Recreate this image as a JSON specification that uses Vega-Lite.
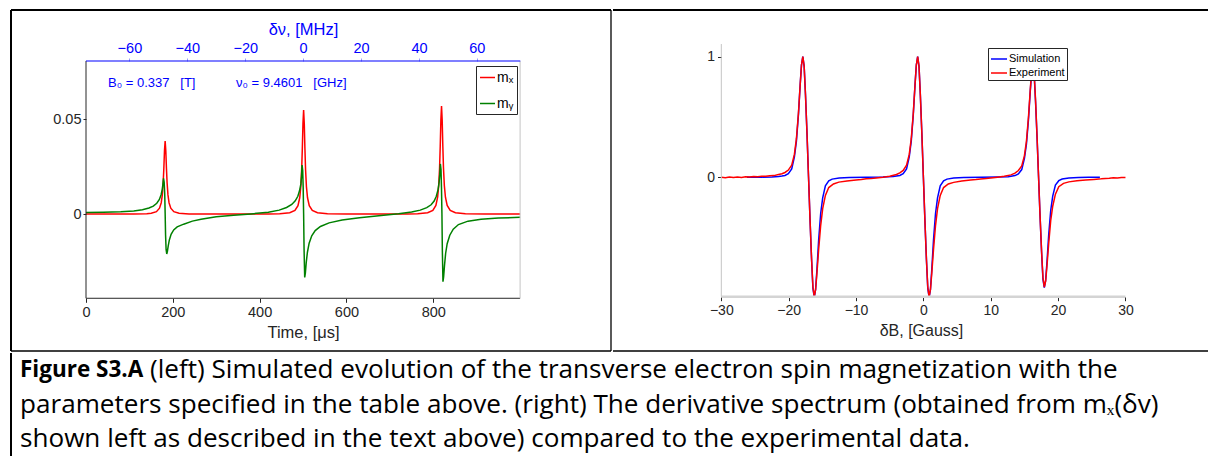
{
"$schema":"https://vega.github.io/schema/vega-lite/v6.json",
"padding":{"left":10,"top":9,"right":0,"bottom":0},
"background":"white",
"spacing":0,
"config":{
 "view":{"stroke":null},
 "font":"Liberation Sans",
 "concat":{"spacing":0},
 "axis":{"grid":false,"labelFont":"Liberation Sans","titleFont":"Liberation Sans","labelColor":"#262626","titleColor":"#262626","tickColor":"#262626","titleFontWeight":"normal","labelFontSize":14,"titleFontSize":16},
 "legend":{"labelFont":"Liberation Sans","labelColor":"#000000","symbolType":"stroke","strokeColor":"#262626","fillColor":"white","cornerRadius":0}
},
"datasets":{
 "one":[{}],
 "left":[
  {"s":"mx","t":0,"v":0.0001},{"s":"mx","t":60,"v":0.0001},{"s":"mx","t":110,"v":0.0002},{"s":"mx","t":140,"v":0.00033},{"s":"mx","t":150.3,"v":0.00056},{"s":"mx","t":162.3,"v":0.0014},{"s":"mx","t":169.3,"v":0.0032},{"s":"mx","t":173.3,"v":0.0061},{"s":"mx","t":175.8,"v":0.0102},{"s":"mx","t":177.8,"v":0.0166},{"s":"mx","t":179.3,"v":0.0242},{"s":"mx","t":180.8,"v":0.0336},{"s":"mx","t":182.3,"v":0.0386},{"s":"mx","t":183.8,"v":0.0336},{"s":"mx","t":185.3,"v":0.0242},{"s":"mx","t":186.8,"v":0.0166},{"s":"mx","t":188.8,"v":0.0102},{"s":"mx","t":191.3,"v":0.0061},{"s":"mx","t":195.3,"v":0.0032},{"s":"mx","t":202.3,"v":0.0014},{"s":"mx","t":214.3,"v":0.00056},{"s":"mx","t":237.3,"v":0.00019},{"s":"mx","t":280,"v":0.0001},{"s":"mx","t":350,"v":0.0001},{"s":"mx","t":420,"v":0.0001},{"s":"mx","t":446.3,"v":0.00027},{"s":"mx","t":469.3,"v":0.0008},{"s":"mx","t":481.3,"v":0.002},{"s":"mx","t":488.3,"v":0.0045},{"s":"mx","t":492.3,"v":0.0087},{"s":"mx","t":494.8,"v":0.0145},{"s":"mx","t":496.8,"v":0.0235},{"s":"mx","t":498.3,"v":0.0345},{"s":"mx","t":499.8,"v":0.0478},{"s":"mx","t":501.3,"v":0.0549},{"s":"mx","t":502.8,"v":0.0478},{"s":"mx","t":504.3,"v":0.0345},{"s":"mx","t":505.8,"v":0.0235},{"s":"mx","t":507.8,"v":0.0145},{"s":"mx","t":510.3,"v":0.0087},{"s":"mx","t":514.3,"v":0.0045},{"s":"mx","t":521.3,"v":0.002},{"s":"mx","t":533.3,"v":0.0008},{"s":"mx","t":556.3,"v":0.00027},{"s":"mx","t":600,"v":0.0001},{"s":"mx","t":680,"v":0.0001},{"s":"mx","t":740,"v":0.0001},{"s":"mx","t":764,"v":0.00029},{"s":"mx","t":787,"v":0.00083},{"s":"mx","t":799,"v":0.0021},{"s":"mx","t":806,"v":0.0047},{"s":"mx","t":810,"v":0.009},{"s":"mx","t":812.5,"v":0.0151},{"s":"mx","t":814.5,"v":0.0244},{"s":"mx","t":816,"v":0.0358},{"s":"mx","t":817.5,"v":0.0496},{"s":"mx","t":819,"v":0.057},{"s":"mx","t":820.5,"v":0.0496},{"s":"mx","t":822,"v":0.0358},{"s":"mx","t":823.5,"v":0.0244},{"s":"mx","t":825.5,"v":0.0151},{"s":"mx","t":828,"v":0.009},{"s":"mx","t":832,"v":0.0047},{"s":"mx","t":839,"v":0.0021},{"s":"mx","t":851,"v":0.00083},{"s":"mx","t":874,"v":0.00029},{"s":"mx","t":920,"v":0.0001},{"s":"mx","t":1000,"v":0.0001},
  {"s":"my","t":0,"v":0.0009},{"s":"my","t":40,"v":0.0011},{"s":"my","t":80,"v":0.0014},{"s":"my","t":110,"v":0.0018},{"s":"my","t":130,"v":0.0024},{"s":"my","t":145,"v":0.0033},{"s":"my","t":155,"v":0.0043},{"s":"my","t":163,"v":0.0058},{"s":"my","t":169,"v":0.0078},{"s":"my","t":173,"v":0.0103},{"s":"my","t":175.5,"v":0.013},{"s":"my","t":177,"v":0.0155},{"s":"my","t":178.5,"v":0.0189},{"s":"my","t":180,"v":0.017},{"s":"my","t":181.3,"v":0.011},{"s":"my","t":182.3,"v":0.0005},{"s":"my","t":183.3,"v":-0.011},{"s":"my","t":184.5,"v":-0.0185},{"s":"my","t":186,"v":-0.0209},{"s":"my","t":187.5,"v":-0.0195},{"s":"my","t":189.5,"v":-0.0165},{"s":"my","t":192,"v":-0.0135},{"s":"my","t":196,"v":-0.0105},{"s":"my","t":202,"v":-0.0082},{"s":"my","t":210,"v":-0.0066},{"s":"my","t":225,"v":-0.0052},{"s":"my","t":245,"v":-0.0036},{"s":"my","t":265,"v":-0.0026},{"s":"my","t":300,"v":-0.0013},{"s":"my","t":340,"v":-0.0005},{"s":"my","t":380,"v":0.0002},{"s":"my","t":420,"v":0.0011},{"s":"my","t":445,"v":0.0022},{"s":"my","t":462,"v":0.0036},{"s":"my","t":474,"v":0.0052},{"s":"my","t":482,"v":0.0071},{"s":"my","t":488,"v":0.0095},{"s":"my","t":492,"v":0.0125},{"s":"my","t":495,"v":0.016},{"s":"my","t":496.5,"v":0.02},{"s":"my","t":497.7,"v":0.0259},{"s":"my","t":499.2,"v":0.023},{"s":"my","t":500.3,"v":0.014},{"s":"my","t":501.3,"v":0.0005},{"s":"my","t":502.3,"v":-0.018},{"s":"my","t":503.8,"v":-0.0332},{"s":"my","t":505.3,"v":-0.031},{"s":"my","t":507.3,"v":-0.0255},{"s":"my","t":510,"v":-0.02},{"s":"my","t":514,"v":-0.0152},{"s":"my","t":520,"v":-0.0113},{"s":"my","t":528,"v":-0.0086},{"s":"my","t":540,"v":-0.0064},{"s":"my","t":560,"v":-0.0045},{"s":"my","t":590,"v":-0.003},{"s":"my","t":630,"v":-0.0018},{"s":"my","t":680,"v":-0.0006},{"s":"my","t":720,"v":0.0003},{"s":"my","t":750,"v":0.0012},{"s":"my","t":770,"v":0.0022},{"s":"my","t":785,"v":0.0035},{"s":"my","t":795,"v":0.005},{"s":"my","t":802,"v":0.007},{"s":"my","t":807,"v":0.0095},{"s":"my","t":811,"v":0.013},{"s":"my","t":813.5,"v":0.017},{"s":"my","t":815,"v":0.021},{"s":"my","t":816.3,"v":0.0265},{"s":"my","t":817.8,"v":0.0235},{"s":"my","t":818.9,"v":0.014},{"s":"my","t":819.9,"v":0.0005},{"s":"my","t":820.9,"v":-0.019},{"s":"my","t":822.3,"v":-0.0355},{"s":"my","t":823.8,"v":-0.033},{"s":"my","t":825.8,"v":-0.027},{"s":"my","t":828.5,"v":-0.0205},{"s":"my","t":832,"v":-0.0155},{"s":"my","t":838,"v":-0.011},{"s":"my","t":846,"v":-0.0078},{"s":"my","t":858,"v":-0.0054},{"s":"my","t":880,"v":-0.0036},{"s":"my","t":910,"v":-0.0026},{"s":"my","t":950,"v":-0.002},{"s":"my","t":1000,"v":-0.0016}
 ],
 "right":[
  {"s":"Simulation","b":-26.2,"v":0},{"s":"Simulation","b":-24,"v":0.001},{"s":"Simulation","b":-22.5,"v":0.003},{"s":"Simulation","b":-21.5,"v":0.006},{"s":"Simulation","b":-21,"v":0.01},{"s":"Simulation","b":-20.55,"v":0.015},{"s":"Simulation","b":-20.05,"v":0.03},{"s":"Simulation","b":-19.55,"v":0.07},{"s":"Simulation","b":-19.15,"v":0.17},{"s":"Simulation","b":-18.85,"v":0.3},{"s":"Simulation","b":-18.55,"v":0.52},{"s":"Simulation","b":-18.3,"v":0.76},{"s":"Simulation","b":-18.1,"v":0.93},{"s":"Simulation","b":-17.9,"v":1.0},{"s":"Simulation","b":-17.7,"v":0.92},{"s":"Simulation","b":-17.5,"v":0.68},{"s":"Simulation","b":-17.27,"v":0.35},{"s":"Simulation","b":-17.05,"v":0},{"s":"Simulation","b":-16.83,"v":-0.35},{"s":"Simulation","b":-16.6,"v":-0.68},{"s":"Simulation","b":-16.4,"v":-0.92},{"s":"Simulation","b":-16.2,"v":-0.995},{"s":"Simulation","b":-16,"v":-0.93},{"s":"Simulation","b":-15.8,"v":-0.76},{"s":"Simulation","b":-15.55,"v":-0.52},{"s":"Simulation","b":-15.25,"v":-0.3},{"s":"Simulation","b":-14.95,"v":-0.17},{"s":"Simulation","b":-14.55,"v":-0.07},{"s":"Simulation","b":-14.05,"v":-0.03},{"s":"Simulation","b":-13.55,"v":-0.015},{"s":"Simulation","b":-12.5,"v":-0.006},{"s":"Simulation","b":-11,"v":-0.002},{"s":"Simulation","b":-8.5,"v":0},{"s":"Simulation","b":-6,"v":0.002},{"s":"Simulation","b":-4.5,"v":0.006},{"s":"Simulation","b":-3.5,"v":0.015},{"s":"Simulation","b":-3,"v":0.03},{"s":"Simulation","b":-2.5,"v":0.07},{"s":"Simulation","b":-2.1,"v":0.17},{"s":"Simulation","b":-1.8,"v":0.3},{"s":"Simulation","b":-1.5,"v":0.52},{"s":"Simulation","b":-1.25,"v":0.76},{"s":"Simulation","b":-1.05,"v":0.93},{"s":"Simulation","b":-0.85,"v":1.0},{"s":"Simulation","b":-0.65,"v":0.92},{"s":"Simulation","b":-0.45,"v":0.68},{"s":"Simulation","b":-0.22,"v":0.35},{"s":"Simulation","b":0,"v":0},{"s":"Simulation","b":0.22,"v":-0.35},{"s":"Simulation","b":0.45,"v":-0.68},{"s":"Simulation","b":0.65,"v":-0.92},{"s":"Simulation","b":0.85,"v":-0.995},{"s":"Simulation","b":1.05,"v":-0.93},{"s":"Simulation","b":1.25,"v":-0.76},{"s":"Simulation","b":1.5,"v":-0.52},{"s":"Simulation","b":1.8,"v":-0.3},{"s":"Simulation","b":2.1,"v":-0.17},{"s":"Simulation","b":2.5,"v":-0.07},{"s":"Simulation","b":3,"v":-0.03},{"s":"Simulation","b":3.5,"v":-0.015},{"s":"Simulation","b":4.5,"v":-0.006},{"s":"Simulation","b":6,"v":-0.002},{"s":"Simulation","b":8.5,"v":0},{"s":"Simulation","b":11,"v":0.002},{"s":"Simulation","b":12.6,"v":0.005},{"s":"Simulation","b":13.6,"v":0.014},{"s":"Simulation","b":14.1,"v":0.028},{"s":"Simulation","b":14.6,"v":0.064},{"s":"Simulation","b":15.0,"v":0.156},{"s":"Simulation","b":15.3,"v":0.276},{"s":"Simulation","b":15.6,"v":0.478},{"s":"Simulation","b":15.85,"v":0.7},{"s":"Simulation","b":16.05,"v":0.855},{"s":"Simulation","b":16.25,"v":0.92},{"s":"Simulation","b":16.45,"v":0.846},{"s":"Simulation","b":16.65,"v":0.626},{"s":"Simulation","b":16.88,"v":0.322},{"s":"Simulation","b":17.1,"v":0},{"s":"Simulation","b":17.32,"v":-0.322},{"s":"Simulation","b":17.55,"v":-0.626},{"s":"Simulation","b":17.75,"v":-0.846},{"s":"Simulation","b":17.95,"v":-0.915},{"s":"Simulation","b":18.15,"v":-0.855},{"s":"Simulation","b":18.35,"v":-0.7},{"s":"Simulation","b":18.6,"v":-0.478},{"s":"Simulation","b":18.9,"v":-0.276},{"s":"Simulation","b":19.2,"v":-0.156},{"s":"Simulation","b":19.6,"v":-0.064},{"s":"Simulation","b":20.1,"v":-0.028},{"s":"Simulation","b":20.6,"v":-0.014},{"s":"Simulation","b":21.6,"v":-0.006},{"s":"Simulation","b":23,"v":-0.002},{"s":"Simulation","b":24.5,"v":0},{"s":"Simulation","b":26.2,"v":0},
  {"s":"Experiment","b":-30,"v":0.001},{"s":"Experiment","b":-29.4,"v":-0.003},{"s":"Experiment","b":-28.8,"v":0.003},{"s":"Experiment","b":-28.2,"v":-0.002},{"s":"Experiment","b":-27.6,"v":0.002},{"s":"Experiment","b":-27,"v":-0.002},{"s":"Experiment","b":-26.4,"v":0.005},{"s":"Experiment","b":-25.8,"v":0.002},{"s":"Experiment","b":-25.2,"v":0.007},{"s":"Experiment","b":-24.6,"v":0.004},{"s":"Experiment","b":-24,"v":0.009},{"s":"Experiment","b":-23.4,"v":0.008},{"s":"Experiment","b":-22.8,"v":0.013},{"s":"Experiment","b":-22.2,"v":0.014},{"s":"Experiment","b":-21.5,"v":0.023},{"s":"Experiment","b":-21,"v":0.029},{"s":"Experiment","b":-20.55,"v":0.04},{"s":"Experiment","b":-20.05,"v":0.06},{"s":"Experiment","b":-19.55,"v":0.1},{"s":"Experiment","b":-19.15,"v":0.19},{"s":"Experiment","b":-18.85,"v":0.32},{"s":"Experiment","b":-18.55,"v":0.53},{"s":"Experiment","b":-18.3,"v":0.76},{"s":"Experiment","b":-18.1,"v":0.93},{"s":"Experiment","b":-17.9,"v":1.0},{"s":"Experiment","b":-17.7,"v":0.92},{"s":"Experiment","b":-17.5,"v":0.68},{"s":"Experiment","b":-17.27,"v":0.35},{"s":"Experiment","b":-17.05,"v":0},{"s":"Experiment","b":-16.83,"v":-0.35},{"s":"Experiment","b":-16.6,"v":-0.68},{"s":"Experiment","b":-16.4,"v":-0.91},{"s":"Experiment","b":-16.2,"v":-0.99},{"s":"Experiment","b":-16,"v":-0.93},{"s":"Experiment","b":-15.8,"v":-0.79},{"s":"Experiment","b":-15.55,"v":-0.6},{"s":"Experiment","b":-15.25,"v":-0.4},{"s":"Experiment","b":-14.95,"v":-0.26},{"s":"Experiment","b":-14.55,"v":-0.15},{"s":"Experiment","b":-14.05,"v":-0.085},{"s":"Experiment","b":-13.35,"v":-0.055},{"s":"Experiment","b":-12.55,"v":-0.04},{"s":"Experiment","b":-11.35,"v":-0.03},{"s":"Experiment","b":-10,"v":-0.022},{"s":"Experiment","b":-9.2,"v":-0.019},{"s":"Experiment","b":-8.5,"v":-0.013},{"s":"Experiment","b":-7.8,"v":-0.011},{"s":"Experiment","b":-7,"v":-0.005},{"s":"Experiment","b":-6,"v":0.001},{"s":"Experiment","b":-5,"v":0.009},{"s":"Experiment","b":-4,"v":0.023},{"s":"Experiment","b":-3.5,"v":0.036},{"s":"Experiment","b":-3,"v":0.057},{"s":"Experiment","b":-2.5,"v":0.1},{"s":"Experiment","b":-2.1,"v":0.19},{"s":"Experiment","b":-1.8,"v":0.32},{"s":"Experiment","b":-1.5,"v":0.53},{"s":"Experiment","b":-1.25,"v":0.76},{"s":"Experiment","b":-1.05,"v":0.93},{"s":"Experiment","b":-0.85,"v":1.0},{"s":"Experiment","b":-0.65,"v":0.92},{"s":"Experiment","b":-0.45,"v":0.68},{"s":"Experiment","b":-0.22,"v":0.35},{"s":"Experiment","b":0,"v":0},{"s":"Experiment","b":0.22,"v":-0.35},{"s":"Experiment","b":0.45,"v":-0.68},{"s":"Experiment","b":0.65,"v":-0.91},{"s":"Experiment","b":0.85,"v":-0.99},{"s":"Experiment","b":1.05,"v":-0.93},{"s":"Experiment","b":1.25,"v":-0.79},{"s":"Experiment","b":1.5,"v":-0.6},{"s":"Experiment","b":1.8,"v":-0.4},{"s":"Experiment","b":2.1,"v":-0.26},{"s":"Experiment","b":2.5,"v":-0.15},{"s":"Experiment","b":3,"v":-0.085},{"s":"Experiment","b":3.7,"v":-0.055},{"s":"Experiment","b":4.5,"v":-0.042},{"s":"Experiment","b":5.7,"v":-0.03},{"s":"Experiment","b":7,"v":-0.022},{"s":"Experiment","b":7.8,"v":-0.019},{"s":"Experiment","b":8.5,"v":-0.014},{"s":"Experiment","b":9.3,"v":-0.01},{"s":"Experiment","b":10,"v":-0.005},{"s":"Experiment","b":11,"v":0.001},{"s":"Experiment","b":12,"v":0.008},{"s":"Experiment","b":13,"v":0.02},{"s":"Experiment","b":13.6,"v":0.034},{"s":"Experiment","b":14.1,"v":0.056},{"s":"Experiment","b":14.6,"v":0.094},{"s":"Experiment","b":15.0,"v":0.18},{"s":"Experiment","b":15.3,"v":0.3},{"s":"Experiment","b":15.6,"v":0.5},{"s":"Experiment","b":15.85,"v":0.71},{"s":"Experiment","b":16.05,"v":0.87},{"s":"Experiment","b":16.25,"v":0.94},{"s":"Experiment","b":16.45,"v":0.86},{"s":"Experiment","b":16.65,"v":0.64},{"s":"Experiment","b":16.88,"v":0.33},{"s":"Experiment","b":17.1,"v":0},{"s":"Experiment","b":17.32,"v":-0.32},{"s":"Experiment","b":17.55,"v":-0.62},{"s":"Experiment","b":17.75,"v":-0.83},{"s":"Experiment","b":17.95,"v":-0.91},{"s":"Experiment","b":18.15,"v":-0.86},{"s":"Experiment","b":18.35,"v":-0.73},{"s":"Experiment","b":18.6,"v":-0.55},{"s":"Experiment","b":18.9,"v":-0.36},{"s":"Experiment","b":19.2,"v":-0.24},{"s":"Experiment","b":19.6,"v":-0.14},{"s":"Experiment","b":20.1,"v":-0.078},{"s":"Experiment","b":20.8,"v":-0.05},{"s":"Experiment","b":21.6,"v":-0.038},{"s":"Experiment","b":22.8,"v":-0.029},{"s":"Experiment","b":24.1,"v":-0.022},{"s":"Experiment","b":25.3,"v":-0.018},{"s":"Experiment","b":26.4,"v":-0.013},{"s":"Experiment","b":27,"v":-0.009},{"s":"Experiment","b":27.6,"v":-0.008},{"s":"Experiment","b":28.2,"v":-0.004},{"s":"Experiment","b":28.8,"v":-0.005},{"s":"Experiment","b":29.4,"v":-0.001},{"s":"Experiment","b":30,"v":-0.002}
 ],
 "caption":[
  {"line":1,"part":"bold","text":"Figure S3.A"},
  {"line":1,"part":"rest1","text":"(left) Simulated evolution of the transverse electron spin magnetization with the"},
  {"line":2,"part":"rest","text":"parameters specified in the table above. (right) The derivative spectrum (obtained from mₓ(δv)"},
  {"line":3,"part":"rest","text":"shown left as described in the text above) compared to the experimental data."}
 ]
},
"vconcat":[
 {"hconcat":[
  {"width":600,"height":341,
   "resolve":{"scale":{"x":"independent"},"axis":{"x":"independent"}},
   "layer":[
    {"layer":[
     {"data":{"name":"left"},
      "mark":{"type":"line","strokeWidth":1.5},
      "encoding":{
       "x":{"field":"t","type":"quantitative","scale":{"domain":[-172.8,1209.4],"nice":false,"zero":false},
            "axis":{"orient":"bottom","offset":-52.7,"values":[0,200,400,600,800],"domain":false,"tickSize":4,"labelPadding":3,"labelFontSize":14.5,"title":"Time, [μs]","titleFontSize":16.5,"titleX":292,"titleY":34,"titleBaseline":"middle"}},
       "y":{"field":"v","type":"quantitative","scale":{"domain":[-0.07195,0.10753],"nice":false,"zero":false},
            "axis":{"orient":"left","offset":-75,"values":[0,0.05],"format":".2~f","domain":false,"tickSize":3,"labelPadding":2,"labelFontSize":14.5,"title":null}},
       "color":{"field":"s","type":"nominal","scale":{"domain":["mx","my"],"range":["#ff0000","#008000"]},
            "legend":{"title":null,"orient":"none","legendX":465,"legendY":56,"labelFontSize":14,"padding":3,"rowPadding":10,"symbolSize":225,"symbolStrokeWidth":1.5,"labelOffset":1,"labelExpr":"datum.label == 'mx' ? 'mₓ' : 'mᵧ'"}}
      }},
     {"data":{"name":"one"},"mark":{"type":"rule","color":"#262626","strokeWidth":1},"encoding":{"x":{"datum":0,"type":"quantitative"},"y":{"datum":-0.0442,"type":"quantitative"},"y2":{"datum":0.0807}}},
     {"data":{"name":"one"},"mark":{"type":"rule","color":"#262626","strokeWidth":1},"encoding":{"x":{"datum":0,"type":"quantitative"},"x2":{"datum":1000},"y":{"datum":-0.0442,"type":"quantitative"}}},
     {"data":{"name":"one"},"mark":{"type":"rule","color":"#c4c4c4","strokeWidth":1},"encoding":{"x":{"datum":1000,"type":"quantitative"},"y":{"datum":-0.0442,"type":"quantitative"},"y2":{"datum":0.0807}}},
     {"data":{"name":"one"},"mark":{"type":"text","text":"B₀ = 0.337\u00a0\u00a0\u00a0[T]","align":"left","baseline":"middle","fontSize":13,"color":"#0000ff"},"encoding":{"x":{"datum":50.7,"type":"quantitative"},"y":{"datum":0.0691,"type":"quantitative"}}},
     {"data":{"name":"one"},"mark":{"type":"text","text":"ν₀ = 9.4601\u00a0\u00a0\u00a0[GHz]","align":"left","baseline":"middle","fontSize":13,"color":"#0000ff"},"encoding":{"x":{"datum":345.5,"type":"quantitative"},"y":{"datum":0.0691,"type":"quantitative"}}},
     {"data":{"name":"one"},"mark":{"type":"rule","color":"black","strokeWidth":2},"encoding":{"y":{"datum":0.10753,"type":"quantitative"}}},
     {"data":{"name":"one"},"mark":{"type":"rule","color":"black","strokeWidth":2},"encoding":{"x":{"datum":-172.8,"type":"quantitative"}}},
     {"data":{"name":"one"},"mark":{"type":"rule","color":"black","strokeWidth":1.3},"encoding":{"x":{"datum":1209.4,"type":"quantitative"}}},
     {"data":{"name":"one"},"mark":{"type":"rule","color":"black","strokeWidth":1.3},"encoding":{"y":{"datum":-0.07195,"type":"quantitative"}}}
    ]},
    {"data":{"name":"one"},"mark":{"type":"rule","color":"#0000ff","strokeWidth":1.2},
     "encoding":{
      "x":{"datum":-75,"type":"quantitative","scale":{"domain":[-100.9,106.33],"nice":false,"zero":false},
           "axis":{"orient":"top","offset":-51,"values":[-60,-40,-20,0,20,40,60],"domain":false,"tickSize":3,"tickColor":"#9a9aff","labelColor":"#0000ff","labelPadding":3,"labelFontSize":14.5,"title":"δν, [MHz]","titleFontSize":16.5,"titleColor":"#0000ff","titleX":292,"titleY":-32,"titleBaseline":"middle"}},
      "x2":{"datum":75},
      "y":{"datum":0.0807,"type":"quantitative"}}}
   ]},
  {"width":596,"height":341,
   "layer":[
    {"data":{"name":"right"},"transform":[{"filter":"datum.s == 'Simulation'"}],
     "mark":{"type":"line","strokeWidth":1.5},
     "encoding":{
      "x":{"field":"b","type":"quantitative","scale":{"domain":[-46.08,42.4],"nice":false,"zero":false},
           "axis":{"orient":"bottom","offset":-54.3,"values":[-30,-20,-10,0,10,20,30],"domain":false,"tickSize":4,"labelPadding":3,"labelFontSize":14,"title":"δB, [Gauss]","titleFontSize":16,"titleX":308,"titleY":34,"titleBaseline":"middle"}},
      "y":{"field":"v","type":"quantitative","scale":{"domain":[-1.4403,1.3872],"nice":false,"zero":false},
           "axis":{"orient":"left","offset":-108.5,"values":[0,1],"format":"d","domain":false,"tickSize":4,"labelPadding":3,"labelFontSize":14,"title":null}},
      "color":{"field":"s","type":"nominal","scale":{"domain":["Simulation","Experiment"],"range":["#0000ff","#ff0000"]},
           "legend":{"title":null,"orient":"none","legendX":375,"legendY":38,"labelFontSize":11,"padding":2,"rowPadding":0,"symbolSize":256,"symbolStrokeWidth":1.5,"labelOffset":1}}
     }},
    {"data":{"name":"right"},"transform":[{"filter":"datum.s == 'Experiment'"}],
     "mark":{"type":"line","strokeWidth":1.5},
     "encoding":{
      "x":{"field":"b","type":"quantitative"},
      "y":{"field":"v","type":"quantitative"},
      "color":{"field":"s","type":"nominal"}
     }},
    {"data":{"name":"one"},"mark":{"type":"rule","color":"#d4d4d4","strokeWidth":2.5},"encoding":{"x":{"datum":-30,"type":"quantitative"},"x2":{"datum":30},"y":{"datum":-0.99,"type":"quantitative"}}},
    {"data":{"name":"one"},"mark":{"type":"rule","color":"#c4c4c4","strokeWidth":1},"encoding":{"x":{"datum":-30,"type":"quantitative"},"y":{"datum":-0.99,"type":"quantitative"},"y2":{"datum":1.105}}},
    {"data":{"name":"one"},"mark":{"type":"rule","color":"black","strokeWidth":2},"encoding":{"y":{"datum":1.3872,"type":"quantitative"}}},
    {"data":{"name":"one"},"mark":{"type":"rule","color":"black","strokeWidth":1.3},"encoding":{"y":{"datum":-1.4403,"type":"quantitative"}}}
   ]}
 ],
 "spacing":0,
 "resolve":{"scale":{"color":"independent"},"legend":{"color":"independent"}}},
 {"width":1196,"height":103,
  "data":{"name":"caption"},
  "layer":[
   {"data":{"name":"one"},"mark":{"type":"rule","color":"black","strokeWidth":2},
    "encoding":{"x":{"datum":0,"type":"quantitative","scale":{"domain":[0,1],"nice":false,"zero":false},"axis":null}}},
   {"transform":[{"filter":"datum.part == 'bold'"}],
    "mark":{"type":"text","align":"left","baseline":"middle","font":"Open Sans","fontSize":22.5,"fontWeight":"bold","dx":9,"color":"black"},
    "encoding":{"x":{"datum":0,"type":"quantitative"},"y":{"field":"line","type":"ordinal","scale":{"type":"point","padding":0.493},"axis":null},"text":{"field":"text"}}},
   {"transform":[{"filter":"datum.part == 'rest1'"}],
    "mark":{"type":"text","align":"left","baseline":"middle","font":"Open Sans","fontSize":26.1,"dx":139,"color":"black"},
    "encoding":{"x":{"datum":0,"type":"quantitative"},"y":{"field":"line","type":"ordinal"},"text":{"field":"text"}}},
   {"transform":[{"filter":"datum.part == 'rest'"}],
    "mark":{"type":"text","align":"left","baseline":"middle","font":"Open Sans","fontSize":26.1,"dx":9,"color":"black"},
    "encoding":{"x":{"datum":0,"type":"quantitative"},"y":{"field":"line","type":"ordinal"},"text":{"field":"text"}}}
  ]}
]
}
